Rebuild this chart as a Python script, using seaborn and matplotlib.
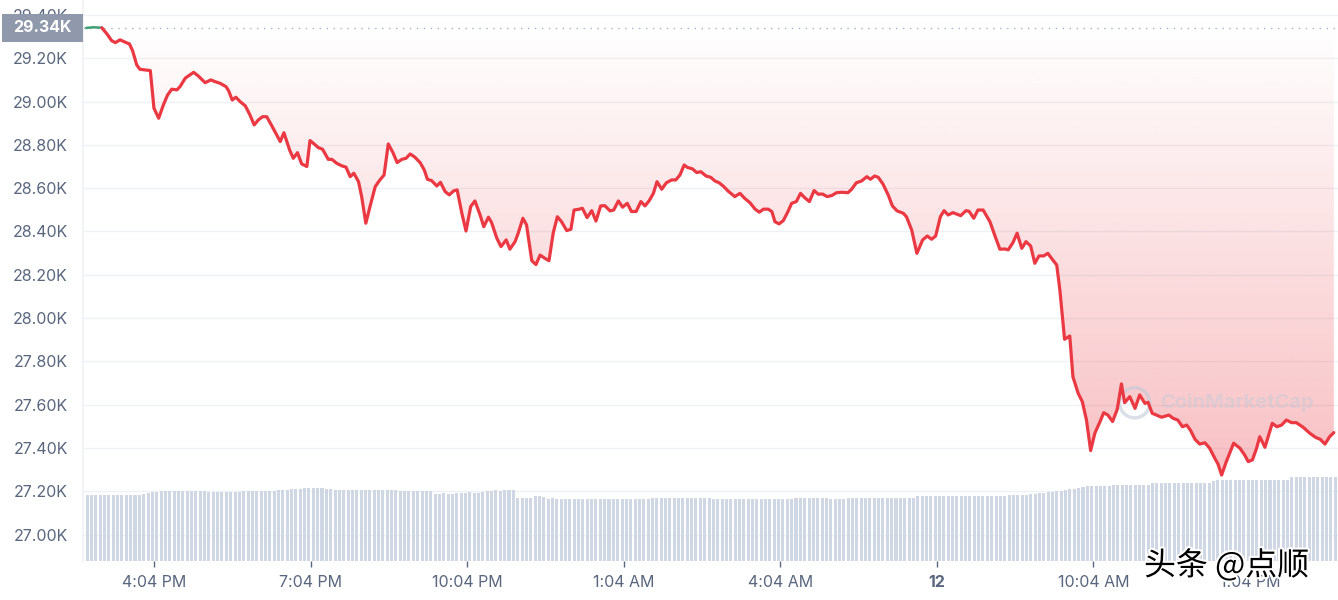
import numpy as np
import seaborn as sns
import matplotlib.pyplot as plt
import matplotlib.patheffects as pe
import matplotlib.transforms as mtransforms
from matplotlib.colors import to_rgb
from matplotlib.patches import Rectangle

# price trace: hours since the start of the 24h window, price in thousands USD
hours = [0.00, 0.14, 0.30, 0.40, 0.49, 0.56, 0.65, 0.75, 0.83, 0.89, 0.97, 1.03, 1.13, 1.23, 1.30, 1.39,
         1.48, 1.56, 1.64, 1.74, 1.80, 1.90, 2.06, 2.15, 2.28, 2.39, 2.47, 2.57, 2.68, 2.73, 2.80, 2.87,
         2.95, 3.05, 3.14, 3.22, 3.30, 3.38, 3.46, 3.56, 3.65, 3.72, 3.79, 3.90, 3.97, 4.05, 4.13, 4.23,
         4.29, 4.39, 4.45, 4.53, 4.64, 4.71, 4.80, 4.90, 4.98, 5.06, 5.13, 5.22, 5.28, 5.36, 5.44, 5.54,
         5.62, 5.71, 5.79, 5.88, 5.96, 6.05, 6.13, 6.21, 6.30, 6.40, 6.48, 6.54, 6.62, 6.72, 6.79, 6.88,
         6.96, 7.04, 7.11, 7.20, 7.28, 7.37, 7.45, 7.55, 7.62, 7.71, 7.77, 7.87, 7.95, 8.05, 8.12, 8.22,
         8.28, 8.37, 8.44, 8.54, 8.62, 8.70, 8.79, 8.87, 8.95, 9.03, 9.11, 9.21, 9.29, 9.35, 9.43, 9.51,
         9.60, 9.69, 9.77, 9.86, 9.94, 10.04, 10.11, 10.20, 10.28, 10.37, 10.45, 10.54, 10.63, 10.71, 10.79, 10.87,
         10.94, 11.03, 11.12, 11.22, 11.30, 11.38, 11.46, 11.52, 11.62, 11.70, 11.78, 11.88, 11.97, 12.05, 12.13, 12.22,
         12.30, 12.43, 12.53, 12.62, 12.72, 12.82, 12.90, 12.98, 13.07, 13.14, 13.20, 13.28, 13.36, 13.45, 13.52, 13.61,
         13.69, 13.77, 13.86, 13.95, 14.03, 14.11, 14.20, 14.29, 14.38, 14.48, 14.60, 14.67, 14.76, 14.86, 14.96, 15.03,
         15.11, 15.18, 15.27, 15.37, 15.45, 15.54, 15.66, 15.72, 15.82, 15.92, 16.03, 16.12, 16.20, 16.28, 16.37, 16.44,
         16.52, 16.61, 16.76, 16.86, 16.92, 17.01, 17.09, 17.19, 17.32, 17.41, 17.51, 17.61, 17.67, 17.76, 17.84, 17.93,
         18.01, 18.10, 18.18, 18.26, 18.35, 18.43, 18.50, 18.60, 18.66, 18.75, 18.85, 18.91, 19.01, 19.09, 19.17, 19.25,
         19.33, 19.43, 19.50, 19.58, 19.67, 19.76, 19.84, 19.90, 20.00, 20.10, 20.19, 20.29, 20.35, 20.43, 20.51, 20.61,
         20.75, 20.83, 20.92, 21.01, 21.09, 21.16, 21.25, 21.34, 21.44, 21.53, 21.63, 21.69, 21.76, 21.85, 21.99, 22.11,
         22.20, 22.27, 22.35, 22.43, 22.49, 22.59, 22.73, 22.82, 22.91, 23.00, 23.10, 23.19, 23.32, 23.45, 23.56, 23.65,
         23.74, 23.83, 23.91]
price_k = [29.340, 29.343, 29.341, 29.312, 29.281, 29.272, 29.285, 29.274, 29.266, 29.235, 29.169, 29.149, 29.146, 29.143, 28.969, 28.923,
           28.984, 29.030, 29.057, 29.054, 29.069, 29.108, 29.135, 29.118, 29.087, 29.100, 29.092, 29.084, 29.069, 29.050, 29.007, 29.020,
           29.000, 28.980, 28.938, 28.892, 28.915, 28.930, 28.930, 28.887, 28.846, 28.815, 28.856, 28.776, 28.738, 28.764, 28.712, 28.700,
           28.820, 28.800, 28.787, 28.780, 28.733, 28.733, 28.715, 28.703, 28.697, 28.653, 28.669, 28.630, 28.561, 28.438, 28.515, 28.607,
           28.635, 28.661, 28.804, 28.764, 28.718, 28.733, 28.738, 28.758, 28.743, 28.718, 28.684, 28.641, 28.635, 28.610, 28.627, 28.584,
           28.569, 28.587, 28.592, 28.484, 28.402, 28.515, 28.541, 28.476, 28.422, 28.466, 28.441, 28.369, 28.330, 28.361, 28.318, 28.353,
           28.392, 28.461, 28.430, 28.265, 28.247, 28.291, 28.276, 28.265, 28.392, 28.468, 28.445, 28.404, 28.410, 28.499, 28.502, 28.507,
           28.464, 28.496, 28.448, 28.518, 28.519, 28.495, 28.499, 28.541, 28.512, 28.530, 28.492, 28.492, 28.538, 28.518, 28.542, 28.576,
           28.630, 28.595, 28.625, 28.638, 28.638, 28.661, 28.707, 28.696, 28.689, 28.672, 28.676, 28.656, 28.650, 28.633, 28.625, 28.607,
           28.587, 28.561, 28.576, 28.553, 28.533, 28.503, 28.489, 28.503, 28.503, 28.492, 28.445, 28.435, 28.450, 28.492, 28.530, 28.538,
           28.576, 28.556, 28.538, 28.589, 28.572, 28.573, 28.561, 28.566, 28.579, 28.581, 28.579, 28.595, 28.625, 28.633, 28.653, 28.641,
           28.656, 28.650, 28.619, 28.569, 28.518, 28.495, 28.484, 28.468, 28.407, 28.299, 28.361, 28.379, 28.364, 28.379, 28.468, 28.496,
           28.476, 28.487, 28.473, 28.496, 28.493, 28.461, 28.499, 28.499, 28.445, 28.384, 28.318, 28.319, 28.315, 28.348, 28.392, 28.322,
           28.353, 28.333, 28.253, 28.287, 28.287, 28.299, 28.276, 28.245, 28.130, 27.902, 27.917, 27.729, 27.653, 27.614, 27.529, 27.388,
           27.468, 27.522, 27.563, 27.552, 27.522, 27.579, 27.696, 27.609, 27.637, 27.583, 27.645, 27.606, 27.611, 27.560, 27.552, 27.542,
           27.552, 27.537, 27.529, 27.498, 27.506, 27.483, 27.440, 27.418, 27.424, 27.399, 27.352, 27.326, 27.275, 27.337, 27.422, 27.399,
           27.368, 27.337, 27.345, 27.399, 27.452, 27.403, 27.514, 27.498, 27.506, 27.529, 27.517, 27.517, 27.496, 27.468, 27.449, 27.440,
           27.418, 27.452, 27.471]

# rolling 24h volume (billions USD), one value per 5 minutes
volume_b = [
    14.2, 14.2, 14.2, 14.2, 14.2, 14.2, 14.2, 14.2, 14.2, 14.2, 14.2, 14.2, 14.2, 14.3, 14.5, 14.7, 14.8, 15.0, 15.0, 14.9, 15.0, 14.9, 14.9, 15.0,
    15.0, 15.0, 14.9, 14.9, 14.8, 14.8, 14.8, 14.8, 14.8, 14.8, 14.8, 14.8, 14.9, 14.9, 14.9, 15.0, 15.0, 15.0, 15.0, 15.0, 15.1, 15.1, 15.2, 15.3,
    15.5, 15.5, 15.6, 15.6, 15.6, 15.6, 15.6, 15.5, 15.3, 15.2, 15.2, 15.2, 15.2, 15.2, 15.2, 15.2, 15.2, 15.1, 15.2, 15.2, 15.2, 15.2, 15.1, 15.1,
    14.9, 14.9, 15.0, 14.9, 14.9, 14.9, 14.9, 14.9, 14.4, 14.4, 14.5, 14.4, 14.4, 14.5, 14.6, 14.6, 14.7, 14.6, 14.6, 14.8, 15.0, 15.0, 15.1, 15.0,
    15.1, 15.2, 15.1, 13.5, 13.5, 13.5, 13.5, 13.8, 13.8, 13.6, 13.3, 13.4, 13.3, 13.3, 13.3, 13.3, 13.3, 13.3, 13.3, 13.3, 13.3, 13.3, 13.3, 13.3,
    13.3, 13.3, 13.3, 13.3, 13.3, 13.3, 13.3, 13.3, 13.3, 13.3, 13.5, 13.5, 13.5, 13.5, 13.5, 13.5, 13.5, 13.5, 13.5, 13.5, 13.5, 13.5, 13.5, 13.5,
    13.3, 13.3, 13.3, 13.3, 13.3, 13.3, 13.3, 13.3, 13.3, 13.3, 13.3, 13.3, 13.3, 13.3, 13.3, 13.3, 13.3, 13.3, 13.3, 13.5, 13.5, 13.5, 13.5, 13.5,
    13.5, 13.5, 13.5, 13.3, 13.3, 13.3, 13.3, 13.5, 13.5, 13.5, 13.5, 13.5, 13.5, 13.5, 13.5, 13.5, 13.5, 13.5, 13.5, 13.5, 13.5, 13.5, 13.5, 13.9,
    14.0, 14.0, 14.0, 14.0, 14.0, 14.0, 14.0, 14.0, 14.0, 14.0, 14.0, 14.0, 14.0, 14.0, 14.0, 14.0, 14.0, 14.0, 14.0, 14.0, 14.1, 14.1, 14.2, 14.2,
    14.2, 14.3, 14.4, 14.5, 14.6, 14.7, 14.8, 14.9, 15.0, 15.2, 15.4, 15.5, 15.6, 15.8, 16.0, 16.0, 16.0, 16.0, 16.0, 16.0, 16.3, 16.3, 16.3, 16.3,
    16.3, 16.3, 16.3, 16.3, 16.3, 16.7, 16.7, 16.7, 16.7, 16.7, 16.7, 16.7, 16.7, 16.7, 16.7, 16.7, 16.7, 16.7, 16.7, 17.2, 17.4, 17.4, 17.4, 17.4,
    17.4, 17.4, 17.4, 17.4, 17.4, 17.4, 17.4, 17.4, 17.4, 17.4, 17.4, 17.4, 17.4, 18.0, 18.0, 18.0, 18.0, 18.0, 18.0, 18.0, 18.0, 18.0, 18.0, 18.0,
]

open_price_k = 29.34
tick_hours = [1.30, 4.30, 7.30, 10.30, 13.30, 16.30, 19.30, 22.30]
tick_labels = ['4:04 PM', '7:04 PM', '10:04 PM', '1:04 AM', '4:04 AM', '12', '10:04 AM', '1:04 PM']
price_ticks = [27.0, 27.2, 27.4, 27.6, 27.8, 28.0, 28.2, 28.4, 28.6, 28.8, 29.0, 29.2, 29.4]

RED = '#ea3943'
GREEN = '#3ea072'
GREY_TXT = '#58667e'
GRID = '#eff2f5'

sns.set_theme(style='white')
plt.rcParams['font.family'] = ['Inter', 'DejaVu Sans']

fig = plt.figure(figsize=(13.38, 6.0), dpi=100)
ax = fig.add_axes([83 / 1338, 39 / 600, 1255 / 1338, 561 / 600])

hours = np.array(hours)
price_k = np.array(price_k)

# gradient fill between the open price and the line
poly = ax.fill_between(hours, price_k, open_price_k, color='none', lw=0)
grad = np.zeros((256, 1, 4))
grad[..., :3] = to_rgb(RED)
grad[..., 3] = np.linspace(0, 0.32, 256).reshape(-1, 1)
img = ax.imshow(grad, extent=[hours[0], hours[-1], price_k.min(), open_price_k],
                origin='upper', aspect='auto', zorder=1, interpolation='bilinear')
img.set_clip_path(poly.get_paths()[0], transform=ax.transData)

ax.axhline(open_price_k, color='#a6b0c3', ls=(0, (1, 4)), lw=1, zorder=2)

# line: green while at/above the open, red after
first_below = int(np.argmax(price_k < open_price_k))
sns.lineplot(x=hours[:first_below], y=price_k[:first_below], ax=ax, color=GREEN, lw=1.8, zorder=4)
sns.lineplot(x=hours[first_below - 1:], y=price_k[first_below - 1:], ax=ax, color=RED, lw=2.3, zorder=4)

ax.set_xlim(-0.06, 23.99)
ax.set_ylim(26.878, 29.469)
ax.set_yticks(price_ticks)
ax.set_yticklabels([f'{v:.2f}K' for v in price_ticks])
ax.set_xticks(tick_hours)
ax.set_xticklabels(tick_labels)
ax.get_xticklabels()[5].set_fontweight('bold')
ax.tick_params(axis='y', length=0, pad=11, labelsize=11.5, labelcolor=GREY_TXT)
ax.tick_params(axis='x', length=4, width=1, color=GREY_TXT, pad=6, labelsize=11.5,
               labelcolor=GREY_TXT, bottom=True, direction='out')
ax.grid(axis='y', color=GRID, lw=1)
ax.grid(axis='x', visible=False)
ax.set_axisbelow(True)
for s in ['top', 'right', 'bottom']:
    ax.spines[s].set_visible(False)
ax.spines['left'].set_color(GRID)
ax.set_xlabel('')
ax.set_ylabel('')

# volume bars on a hidden twin axis
axv = ax.twinx()
bar_hours = np.arange(len(volume_b)) / 12 + 0.02
axv.bar(bar_hours, volume_b, width=0.058, color='#cfd6e4', lw=0)
axv.set_ylim(0, 120)
axv.set_yticks([])
for s in axv.spines.values():
    s.set_visible(False)

# open price tag over the y labels
trans = mtransforms.blended_transform_factory(ax.transAxes, ax.transData)
ax.add_patch(Rectangle((-0.0645, open_price_k - 0.066), 0.0645, 0.129, transform=trans,
                       fc='#8f99ab', ec='none', zorder=9, clip_on=False))
ax.text(-0.0325, open_price_k, f'{open_price_k:.2f}K', transform=trans, ha='center', va='center',
        color='white', fontsize=11.5, fontweight='bold', zorder=10, clip_on=False)

# watermarks
ax.scatter([0.838], [0.282], s=470, transform=ax.transAxes, facecolors='none',
           edgecolors='#c3cad8', linewidths=2.5, alpha=0.6, zorder=3)
ax.text(0.858, 0.282, 'CoinMarketCap', transform=ax.transAxes, fontsize=14.5, fontweight='bold',
        color='#c3cad8', alpha=0.45, va='center', ha='left', zorder=3)
fig.text(0.855, 0.057, '头条 @点顺', fontsize=23, family=['Noto Sans CJK SC', 'DejaVu Sans'],
         color='black', va='center', ha='left',
         path_effects=[pe.withStroke(linewidth=3, foreground='white')])

fig.savefig('out.png', dpi=100)
